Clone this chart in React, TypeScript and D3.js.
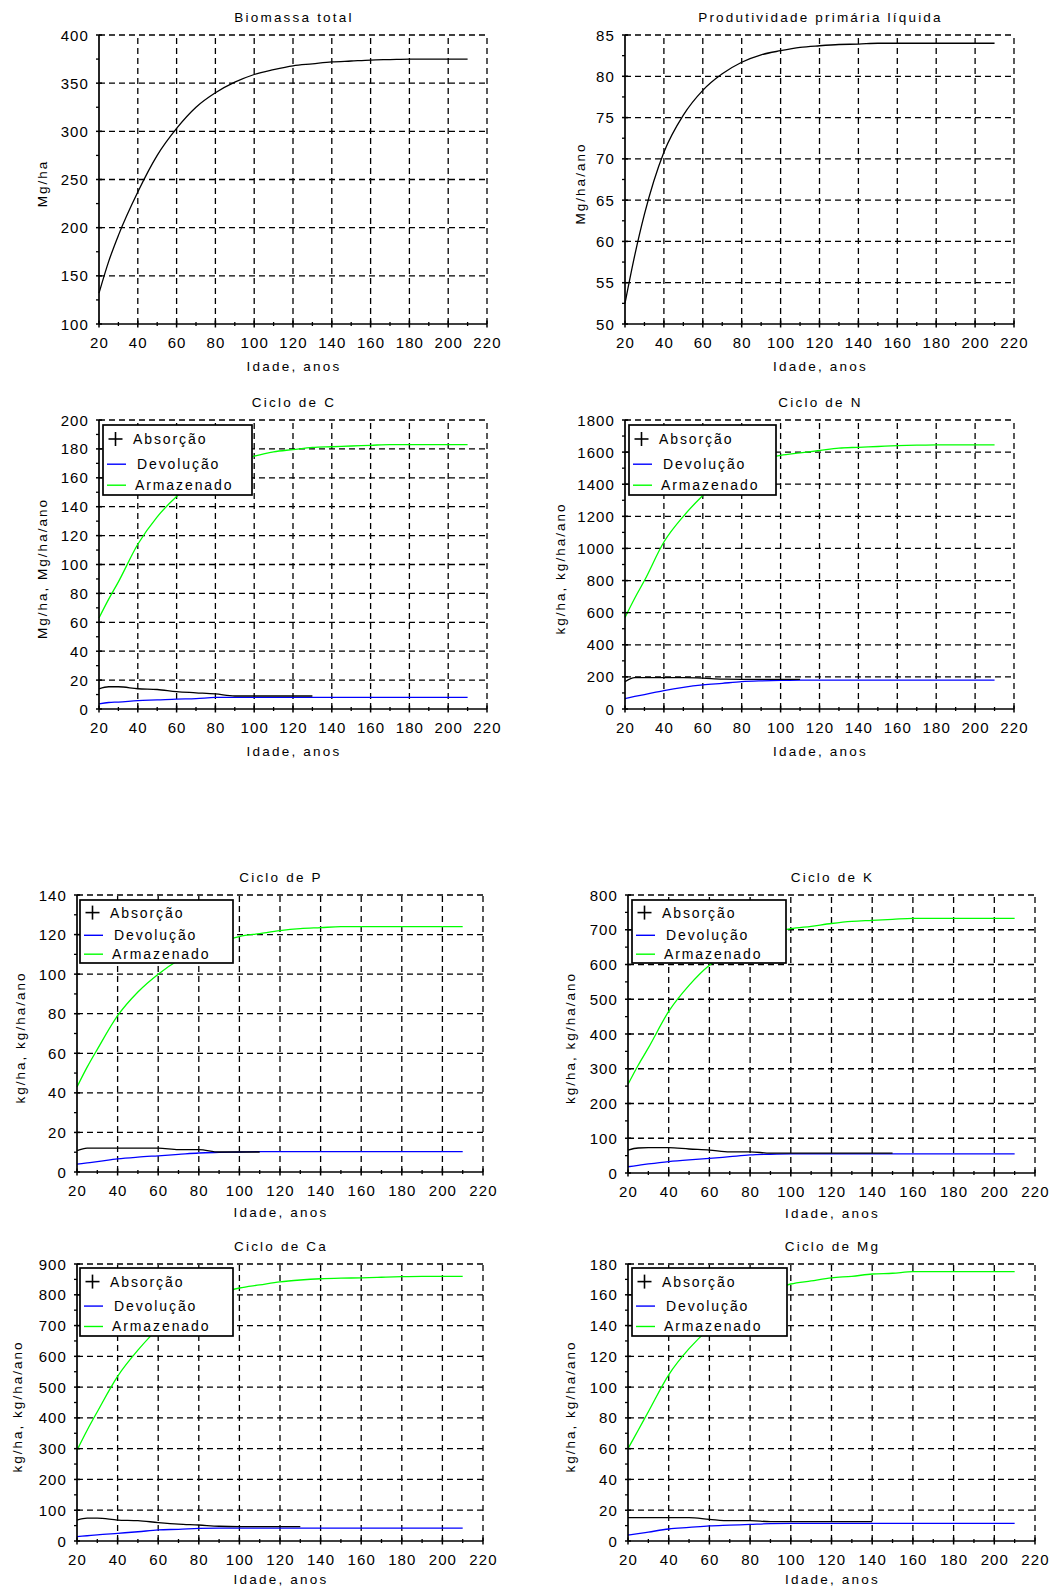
import React from 'react';
import * as d3 from 'd3';

// ---- data ----
const AGES = [20, 25, 30, 40, 50, 60, 70, 80, 90, 100, 110, 120, 130, 140, 150, 160, 170, 180, 190, 200, 210];
const X_TICKS = [20, 40, 60, 80, 100, 120, 140, 160, 180, 200, 220];

const BIOMASSA = [132, 165, 192, 237, 275, 303, 325, 340, 351, 359, 364, 368, 370, 372, 373, 374, 374.5, 375, 375, 375, 375];
const PPL = [52.5, 58.3, 63.3, 70.8, 75.3, 78.3, 80.3, 81.7, 82.6, 83.1, 83.5, 83.7, 83.85, 83.9, 84, 84, 84, 84, 84, 84, 84];

const C_ABS = [14, 15.4, 15.4, 14, 13.5, 12, 11.2, 10.4, 9, 9, 9, 9, 9];
const C_DEV = [3.5, 4.5, 4.8, 5.8, 6.3, 6.9, 7.2, 8, 8.1, 8.1, 8.1, 8.1, 8.1, 8.1, 8.1, 8.1, 8.1, 8.1, 8.1, 8.1, 8.1];
const C_ARM = [63, 76, 88, 114, 133, 147, 158, 165, 171, 175, 178, 179.5, 181, 181.5, 182, 182.5, 183, 183, 183, 183, 183];

const N_ABS = [170, 195, 195, 195, 195, 192, 186, 185, 185, 185, 185];
const N_DEV = [65, 78, 90, 115, 135, 150, 160, 170, 175, 178, 180, 180, 180, 180, 180, 180, 180, 180, 180, 180, 180];
const N_ARM = [570, 690, 800, 1040, 1200, 1330, 1440, 1510, 1555, 1580, 1595, 1610, 1625, 1630, 1635, 1640, 1643, 1645, 1645, 1645, 1645];

const P_ABS = [10.8, 12.1, 12.1, 12.1, 12.1, 12.1, 11.3, 11.3, 10.1, 10.1, 10.1];
const P_DEV = [4, 4.6, 5.2, 6.6, 7.5, 8.2, 8.9, 9.6, 9.9, 10.1, 10.3, 10.3, 10.3, 10.3, 10.3, 10.3, 10.3, 10.3, 10.3, 10.3, 10.3];
const P_ARM = [43, 53, 62, 79, 91, 100, 107, 112, 116, 119, 120.5, 122, 123, 123.5, 124, 124, 124, 124, 124, 124, 124];

const K_ABS = [66, 72, 72.8, 72.8, 69, 66, 61, 61, 57, 57, 57, 57, 57, 57, 57];
const K_DEV = [18, 22, 26, 33, 38, 42, 47, 52, 54, 55, 55, 55, 55, 55, 55, 55, 55, 55, 55, 55, 55];
const K_ARM = [255, 310, 360, 465, 540, 598, 635, 665, 690, 703, 710, 718, 724, 727, 730, 733, 733, 733, 733, 733, 733];

const CA_ABS = [68, 74, 74, 68, 66, 60, 55, 52, 48, 47, 47, 47, 47];
const CA_DEV = [14, 17, 20, 25, 30, 36, 38, 41, 42, 42, 42, 42, 42, 42, 42, 42, 42, 42, 42, 42, 42];
const CA_ARM = [295, 360, 420, 535, 620, 690, 740, 780, 805, 822, 832, 842, 848, 852, 854, 855, 857, 859, 860, 860, 860];

const MG_ABS = [15.2, 15.2, 15.2, 15.2, 15.2, 14.1, 13.2, 13.2, 12.6, 12.6, 12.6, 12.6, 12.6, 12.6];
const MG_DEV = [3.9, 4.8, 5.8, 7.8, 8.8, 9.8, 10.3, 10.8, 11.3, 11.5, 11.5, 11.5, 11.5, 11.5, 11.5, 11.5, 11.5, 11.5, 11.5, 11.5, 11.5];
const MG_ARM = [60, 72, 84, 108, 125, 138, 148, 157, 163, 167, 169, 171, 172, 173.5, 174, 175, 175, 175, 175, 175, 175];

const TITLES = ['Biomassa total', 'Produtividade primária líquida', 'Ciclo de C', 'Ciclo de N', 'Ciclo de P', 'Ciclo de K', 'Ciclo de Ca', 'Ciclo de Mg'];
const Y_LABELS = ['Mg/ha', 'Mg/ha/ano', 'Mg/ha, Mg/ha/ano', 'kg/ha, kg/ha/ano', 'kg/ha, kg/ha/ano', 'kg/ha, kg/ha/ano', 'kg/ha, kg/ha/ano', 'kg/ha, kg/ha/ano'];
const X_LABEL = 'Idade, anos';
const LEGEND_LABELS = ['Absorção', 'Devolução', 'Armazenado'];
const Y_DOMAINS: [number, number][] = [[100, 400], [50, 85], [0, 200], [0, 1800], [0, 140], [0, 800], [0, 900], [0, 180]];
const Y_STEPS = [50, 5, 20, 200, 20, 100, 100, 20];

const COLORS = { abs: '#000000', dev: '#0000ff', arm: '#00ff00' };
const FONT = '"Liberation Sans", Arial, sans-serif';

type Box = { l: number; r: number; t: number; b: number; ylx: number; xlOff: number; leg?: [number, number, number, number] };
const BOXES: Box[] = [
  { l: 99, r: 487, t: 35, b: 324, ylx: 42, xlOff: 47 },
  { l: 625, r: 1014, t: 35, b: 324, ylx: 580, xlOff: 47 },
  { l: 99, r: 487, t: 420, b: 709, ylx: 42, xlOff: 47, leg: [103, 425, 149, 70] },
  { l: 625, r: 1014, t: 420, b: 709, ylx: 560, xlOff: 47, leg: [629, 425, 147, 70] },
  { l: 77, r: 483, t: 895, b: 1172, ylx: 20, xlOff: 45, leg: [80, 900, 153, 63] },
  { l: 628, r: 1035, t: 895, b: 1173, ylx: 570, xlOff: 45, leg: [632, 900, 154, 63] },
  { l: 77, r: 483, t: 1264, b: 1541, ylx: 17, xlOff: 43, leg: [80, 1268, 153, 68] },
  { l: 628, r: 1035, t: 1264, b: 1541, ylx: 570, xlOff: 43, leg: [632, 1268, 155, 68] },
];

type Series = { values: number[]; color: string };
const SERIES: Series[][] = [
  [{ values: BIOMASSA, color: COLORS.abs }],
  [{ values: PPL, color: COLORS.abs }],
  [{ values: C_ARM, color: COLORS.arm }, { values: C_DEV, color: COLORS.dev }, { values: C_ABS, color: COLORS.abs }],
  [{ values: N_ARM, color: COLORS.arm }, { values: N_DEV, color: COLORS.dev }, { values: N_ABS, color: COLORS.abs }],
  [{ values: P_ARM, color: COLORS.arm }, { values: P_DEV, color: COLORS.dev }, { values: P_ABS, color: COLORS.abs }],
  [{ values: K_ARM, color: COLORS.arm }, { values: K_DEV, color: COLORS.dev }, { values: K_ABS, color: COLORS.abs }],
  [{ values: CA_ARM, color: COLORS.arm }, { values: CA_DEV, color: COLORS.dev }, { values: CA_ABS, color: COLORS.abs }],
  [{ values: MG_ARM, color: COLORS.arm }, { values: MG_DEV, color: COLORS.dev }, { values: MG_ABS, color: COLORS.abs }],
];

function Panel({ idx }: { idx: number }) {
  const bx = BOXES[idx];
  const [y0, y1] = Y_DOMAINS[idx];
  const step = Y_STEPS[idx];
  const x = d3.scaleLinear().domain([20, 220]).range([bx.l, bx.r]);
  const y = d3.scaleLinear().domain([y0, y1]).range([bx.b, bx.t]);
  const yTicks = d3.range(y0, y1 + step / 2, step);
  const yMinor = yTicks.slice(0, -1).map((v) => v + step / 2);
  const xMinor = X_TICKS.slice(0, -1).map((v) => v + 10);
  const line = d3
    .line<number>()
    .x((_, i) => x(AGES[i]))
    .y((d) => y(d))
    .curve(d3.curveMonotoneX);
  const cx = (bx.l + bx.r) / 2;
  const cy = (bx.t + bx.b) / 2;
  const dash = '6,4';
  const textStyle = { fontFamily: FONT, fill: '#000' } as const;
  return (
    <g>
      {/* grid */}
      {X_TICKS.slice(1).map((v) => (
        <line key={'gx' + v} x1={x(v)} x2={x(v)} y1={bx.b} y2={bx.t} stroke="#000" strokeWidth={1.3} strokeDasharray={dash} />
      ))}
      {yTicks.slice(1).map((v) => (
        <line key={'gy' + v} x1={bx.l} x2={bx.r} y1={y(v)} y2={y(v)} stroke="#000" strokeWidth={1.3} strokeDasharray={dash} />
      ))}
      {/* series */}
      {SERIES[idx].map((s, i) => (
        <path key={'s' + i} d={line(s.values) || ''} fill="none" stroke={s.color} strokeWidth={1.3} />
      ))}
      {/* axes */}
      <line x1={bx.l} x2={bx.l} y1={bx.t} y2={bx.b} stroke="#000" strokeWidth={1.7} />
      <line x1={bx.l} x2={bx.r} y1={bx.b} y2={bx.b} stroke="#000" strokeWidth={1.7} />
      {yTicks.map((v) => (
        <g key={'yt' + v}>
          <line x1={bx.l - 3} x2={bx.l + 3} y1={y(v)} y2={y(v)} stroke="#000" strokeWidth={1.5} />
          <text x={bx.l - 10} y={y(v) + 5.5} textAnchor="end" fontSize={15} letterSpacing={1.1} style={textStyle}>
            {String(v)}
          </text>
        </g>
      ))}
      {yMinor.map((v) => (
        <line key={'ym' + v} x1={bx.l - 3} x2={bx.l} y1={y(v)} y2={y(v)} stroke="#000" strokeWidth={1.3} />
      ))}
      {X_TICKS.map((v) => (
        <g key={'xt' + v}>
          <line x1={x(v)} x2={x(v)} y1={bx.b - 3.5} y2={bx.b + 3.5} stroke="#000" strokeWidth={1.5} />
          <text x={x(v) + 0.5} y={bx.b + 23.5} textAnchor="middle" fontSize={15} letterSpacing={1.1} style={textStyle}>
            {String(v)}
          </text>
        </g>
      ))}
      {xMinor.map((v) => (
        <line key={'xm' + v} x1={x(v)} x2={x(v)} y1={bx.b - 2} y2={bx.b + 2} stroke="#000" strokeWidth={1.3} />
      ))}
      {/* labels */}
      <text x={cx + 1} y={bx.t - 13} textAnchor="middle" fontSize={13.5} letterSpacing={2.2} style={textStyle}>
        {TITLES[idx]}
      </text>
      <text x={cx + 1} y={bx.b + bx.xlOff} textAnchor="middle" fontSize={13.5} letterSpacing={2.2} style={textStyle}>
        {X_LABEL}
      </text>
      <text
        transform={`translate(${bx.ylx + 5},${cy + 4}) rotate(-90)`}
        textAnchor="middle"
        fontSize={13.5}
        letterSpacing={2}
        style={textStyle}
      >
        {Y_LABELS[idx]}
      </text>
      {bx.leg && <Legend leg={bx.leg} />}
    </g>
  );
}

function Legend({ leg }: { leg: [number, number, number, number] }) {
  const [lx, ly, w, h] = leg;
  const rows = [h * 0.2, h * 0.56, h * 0.86];
  const textStyle = { fontFamily: FONT, fill: '#000' } as const;
  const colors = [COLORS.abs, COLORS.dev, COLORS.arm];
  const textX = [30, 34, 32];
  return (
    <g>
      <rect x={lx} y={ly} width={w} height={h} fill="#fff" stroke="#000" strokeWidth={1.7} />
      {rows.map((ry, i) => (
        <g key={i}>
          {i === 0 ? (
            <g stroke={colors[i]} strokeWidth={1.6}>
              <line x1={lx + 5.5} x2={lx + 19.5} y1={ly + ry} y2={ly + ry} />
              <line x1={lx + 12.5} x2={lx + 12.5} y1={ly + ry - 7} y2={ly + ry + 7} />
            </g>
          ) : (
            <line x1={lx + 4} x2={lx + 23} y1={ly + ry} y2={ly + ry} stroke={colors[i]} strokeWidth={1.4} />
          )}
          <text x={lx + textX[i]} y={ly + ry + 5} fontSize={14} letterSpacing={1.9} style={textStyle}>
            {LEGEND_LABELS[i]}
          </text>
        </g>
      ))}
    </g>
  );
}

export default function App() {
  return (
    <svg
      width={1058}
      height={1589}
      viewBox="0 0 1058 1589"
      style={{ position: 'absolute', left: 0, top: 0, background: '#fff' }}
    >
      <rect x={0} y={0} width={1058} height={1589} fill="#fff" />
      {TITLES.map((_, i) => (
        <Panel key={i} idx={i} />
      ))}
    </svg>
  );
}
